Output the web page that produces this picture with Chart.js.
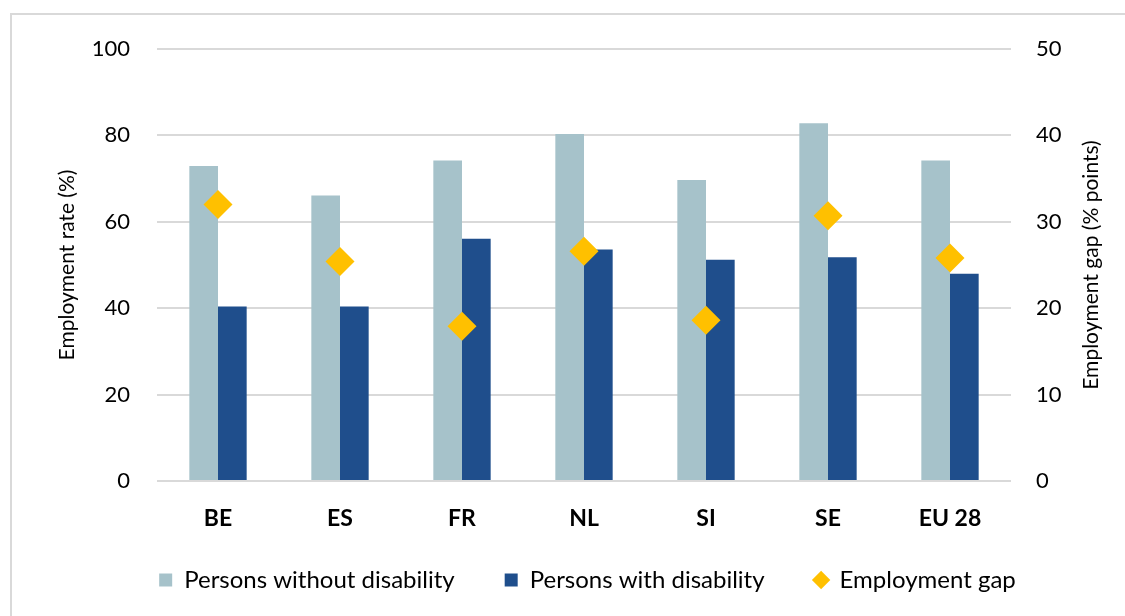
<!DOCTYPE html>
<html>
<head>
<meta charset="utf-8">
<script src="https://cdn.jsdelivr.net/npm/chart.js@4"></script>
<style>
  body { margin: 0; background: #fff; }
  #frame { position: absolute; left: 10px; top: 13px; width: 1200px; height: 700px; border: 2px solid #d9d9d9; }
  #wrap { position: absolute; left: 0; top: 0; width: 1125px; height: 616px; }
</style>
</head>
<body>
<div id="frame"></div>
<div id="wrap"><canvas id="gapChart"></canvas></div>
<script>
const countries = ['BE', 'ES', 'FR', 'NL', 'SI', 'SE', 'EU 28'];
const withoutDisability = [72.9, 66.1, 74.2, 80.3, 69.7, 82.8, 74.2];
const withDisability = [40.4, 40.4, 56.1, 53.6, 51.2, 51.8, 48.0];
const employmentGap = [32.0, 25.4, 17.9, 26.6, 18.6, 30.7, 25.8];
const rateTicks = [0, 20, 40, 60, 80, 100];
const gapTicks = [0, 10, 20, 30, 40, 50];
const gapTitle = 'Employment gap (% points)';

const font = 'Lato';

// right axis title reads bottom-to-top like the left one
const rightTitle = {
  id: 'rightTitle',
  afterDraw(chart) {
    const { ctx, chartArea } = chart;
    const s = chart.scales.y1;
    ctx.save();
    ctx.translate(s.right - 34, (chartArea.top + chartArea.bottom) / 2);
    ctx.rotate(-Math.PI / 2);
    ctx.font = '21px ' + font;
    ctx.fillStyle = '#000';
    ctx.textAlign = 'center';
    ctx.textBaseline = 'middle';
    ctx.fillText(gapTitle, 0, 0);
    ctx.restore();
  }
};

// pull the legend a bit closer to the axis labels
const legendLift = {
  id: 'legendLift',
  afterLayout(chart) {
    chart.legend.top -= 14;
    chart.legend.bottom -= 14;
  }
};

const ctx = document.getElementById('gapChart');

new Chart(ctx, {
  type: 'bar',
  data: {
    labels: countries,
    datasets: [{
      label: 'Persons without disability',
      data: withoutDisability,
      backgroundColor: '#a6c2ca',
      yAxisID: 'y',
      order: 1
    }, {
      label: 'Persons with disability',
      data: withDisability,
      backgroundColor: '#1f4e8c',
      yAxisID: 'y',
      order: 1
    }, {
      type: 'line',
      label: 'Employment gap',
      data: employmentGap,
      yAxisID: 'y1',
      showLine: false,
      pointStyle: 'rectRot',
      pointRadius: 14.5,
      pointHoverRadius: 14.5,
      pointBackgroundColor: '#ffc000',
      pointBorderWidth: 0,
      backgroundColor: '#ffc000',
      borderColor: '#ffc000',
      order: 0
    }]
  },
  options: {
    responsive: true,
    maintainAspectRatio: false,
    animation: false,
    layout: { padding: { left: 50, right: 0, top: 49, bottom: 0 } },
    datasets: {
      bar: { categoryPercentage: 0.47, barPercentage: 1.0 }
    },
    plugins: {
      tooltip: { enabled: false },
      legend: {
        position: 'bottom',
        labels: {
          color: '#000',
          font: { family: font, size: 24 },
          usePointStyle: true,
          boxWidth: 13,
          boxHeight: 13,
          padding: 50,
          generateLabels: chart => chart.data.datasets.map((ds, i) => ({
            text: ds.label,
            fillStyle: ds.backgroundColor,
            strokeStyle: ds.backgroundColor,
            lineWidth: 0,
            pointStyle: ds.type === 'line' ? 'rectRot' : 'rect',
            datasetIndex: i
          }))
        }
      }
    },
    scales: {
      x: {
        grid: { display: false },
        border: { display: false },
        ticks: {
          color: '#000',
          padding: 16,
          font: { family: font, size: 23, weight: 'bold' }
        },
        afterFit: s => { s.height = 51; }
      },
      y: {
        position: 'left',
        min: 0,
        max: 100,
        afterBuildTicks: s => { s.ticks = rateTicks.map(v => ({ value: v })); },
        grid: { color: '#d9d9d9', lineWidth: 2, drawTicks: false },
        border: { display: false },
        ticks: {
          color: '#000',
          padding: 27,
          font: { family: font, size: 22 }
        },
        title: {
          display: true,
          text: 'Employment rate (%)',
          color: '#000',
          font: { family: font, size: 21 },
          padding: { top: 5, bottom: 0 }
        },
        afterFit: s => { s.width = 107; }
      },
      y1: {
        position: 'right',
        min: 0,
        max: 50,
        afterBuildTicks: s => { s.ticks = gapTicks.map(v => ({ value: v })); },
        grid: { display: false, drawTicks: false },
        border: { display: false },
        ticks: {
          color: '#000',
          padding: 25,
          font: { family: font, size: 22 }
        },
        afterFit: s => { s.width = 114; }
      }
    }
  },
  plugins: [rightTitle, legendLift]
});
</script>
</body>
</html>
